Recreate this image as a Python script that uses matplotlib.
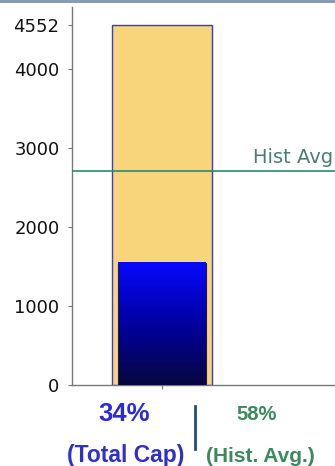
import matplotlib.pyplot as plt
import numpy as np
from matplotlib.patches import Rectangle
from matplotlib.colors import LinearSegmentedColormap

# capacity figures
total_cap = 4552
current = 1548
hist_avg = 2710
pct_current = 34
pct_hist = 58
yticks = [0, 1000, 2000, 3000, 4000, 4552]

W, H = 335, 466
fig = plt.figure(figsize=(W / 100, H / 100), dpi=100)
fig.patch.set_facecolor('white')

# thin header strip
fig.patches.append(Rectangle((0, 1 - 3 / H), 1, 3 / H, transform=fig.transFigure,
                             facecolor='#8a9cb2', edgecolor='none'))

ax = fig.add_axes([72 / W, 1 - 385 / H, 1 - 72 / W, (385 - 7) / H])

# outer capacity bar
ax.bar(0, total_cap, width=1.0, color='#f8d47a', edgecolor='#3b3bcc', linewidth=1.0, zorder=2)

# inner bar filled with a vertical blue gradient
inner_w = 0.88
ax.bar(0, current, width=inner_w, color='none', edgecolor='#1a1a55', linewidth=0.8, zorder=4)
cmap = LinearSegmentedColormap.from_list('blu', ['#07073f', '#0000a0', '#0808ff'])
grad = np.linspace(0, 1, 256).reshape(-1, 1)
ax.imshow(grad, cmap=cmap, origin='lower', aspect='auto', zorder=3,
          extent=[-inner_w / 2, inner_w / 2, 0, current])
ax.set_xlim(-0.9, 1.73)
ax.set_ylim(0, total_cap * 1.05)

# historical average line
ax.axhline(hist_avg, color='#2e8b6a', linewidth=1.2, zorder=5)
ax.annotate('Hist Avg', xy=(1.0, hist_avg), xycoords=('axes fraction', 'data'),
            xytext=(-1, 3), textcoords='offset points', ha='right', va='bottom',
            fontsize=14, color='#4a7d72')

ax.set_yticks(yticks)
ax.set_yticklabels([str(v) for v in yticks])
ax.set_xticks([0])
ax.set_xticklabels([''])
ax.tick_params(axis='y', length=3, width=0.8, color='#777777', pad=6,
               labelsize=13, labelcolor='#111111')
ax.tick_params(axis='x', length=3, width=0.8, color='#777777')
for s in ['top', 'right']:
    ax.spines[s].set_visible(False)
for s in ['left', 'bottom']:
    ax.spines[s].set_color('#777777')
    ax.spines[s].set_linewidth(1.0)

# percentage captions below the axis
blue = '#2a2ad8'
green = '#3a8a5c'
fam = 'Liberation Sans'
fig.text(124 / W, 1 - 421 / H, f'{pct_current}%', ha='center', va='baseline',
         fontsize=18.5, fontweight='bold', color=blue, family=fam)
fig.text(126 / W, 1 - 462 / H, '(Total Cap)', ha='center', va='baseline',
         fontsize=16.5, fontweight='bold', color='#3030c8', family=fam)
fig.text(257 / W, 1 - 420 / H, f'{pct_hist}%', ha='center', va='baseline',
         fontsize=14.5, fontweight='bold', color=green, family=fam)
fig.text(260 / W, 1 - 462 / H, '(Hist. Avg.)', ha='center', va='baseline',
         fontsize=15, fontweight='bold', color=green, family=fam)
fig.add_artist(plt.Line2D([195 / W, 195 / W], [1 - 406 / H, 1 - 449 / H],
                          transform=fig.transFigure, color='#1f4f6f', linewidth=2))

fig.savefig('out.png', dpi=100)
